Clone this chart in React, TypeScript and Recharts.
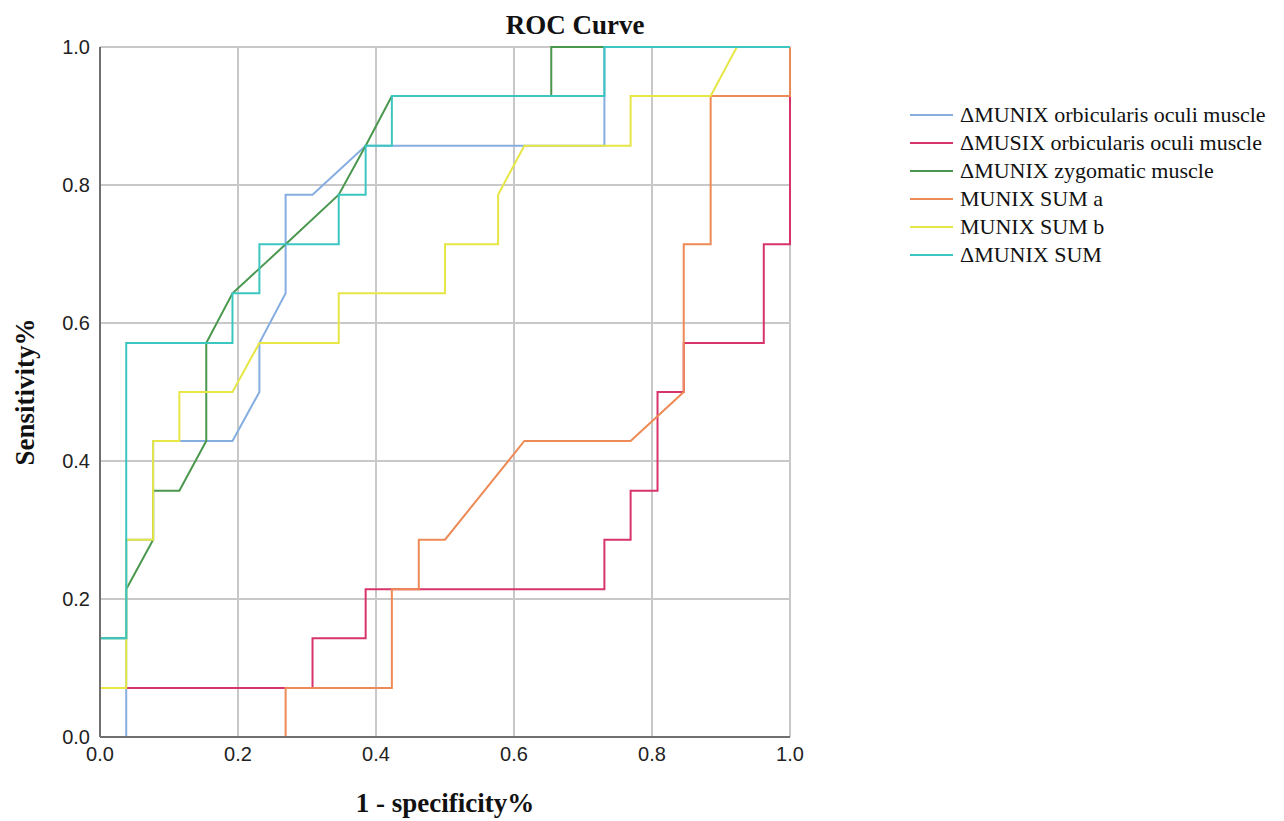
import { LineChart, Line, XAxis, YAxis, CartesianGrid } from "recharts";

// ROC coordinates (x = 1 - specificity, y = sensitivity)
const munixOrbX = [0, 0.038, 0.038, 0.038, 0.077, 0.077, 0.192, 0.231, 0.231, 0.269, 0.269, 0.308, 0.385, 0.731, 0.731, 1];
const munixOrbY = [0, 0, 0.071, 0.286, 0.286, 0.429, 0.429, 0.5, 0.571, 0.643, 0.786, 0.786, 0.857, 0.857, 1, 1];

const musixOrbX = [0, 0, 0.038, 0.308, 0.308, 0.385, 0.385, 0.731, 0.731, 0.769, 0.769, 0.808, 0.808, 0.846, 0.846, 0.962, 0.962, 1, 1];
const musixOrbY = [0, 0.071, 0.071, 0.071, 0.143, 0.143, 0.214, 0.214, 0.286, 0.286, 0.357, 0.357, 0.5, 0.5, 0.571, 0.571, 0.714, 0.714, 1];

const zygoX = [0, 0, 0.038, 0.038, 0.077, 0.077, 0.115, 0.154, 0.154, 0.192, 0.269, 0.346, 0.385, 0.423, 0.654, 0.654, 1];
const zygoY = [0, 0.143, 0.143, 0.214, 0.286, 0.357, 0.357, 0.429, 0.571, 0.643, 0.714, 0.786, 0.857, 0.929, 0.929, 1, 1];

const sumAX = [0, 0.269, 0.269, 0.423, 0.423, 0.462, 0.462, 0.5, 0.615, 0.769, 0.846, 0.846, 0.885, 0.885, 1, 1];
const sumAY = [0, 0, 0.071, 0.071, 0.214, 0.214, 0.286, 0.286, 0.429, 0.429, 0.5, 0.714, 0.714, 0.929, 0.929, 1];

const sumBX = [0, 0, 0.038, 0.038, 0.077, 0.077, 0.115, 0.115, 0.192, 0.231, 0.346, 0.346, 0.5, 0.5, 0.577, 0.577, 0.615, 0.769, 0.769, 0.885, 0.923, 1];
const sumBY = [0, 0.071, 0.071, 0.286, 0.286, 0.429, 0.429, 0.5, 0.5, 0.571, 0.571, 0.643, 0.643, 0.714, 0.714, 0.786, 0.857, 0.857, 0.929, 0.929, 1, 1];

const sumX = [0, 0, 0.038, 0.038, 0.192, 0.192, 0.231, 0.231, 0.346, 0.346, 0.385, 0.385, 0.423, 0.423, 0.731, 0.731, 1];
const sumY = [0, 0.143, 0.143, 0.571, 0.571, 0.643, 0.643, 0.714, 0.714, 0.786, 0.786, 0.857, 0.857, 0.929, 0.929, 1, 1];

const axisTicks = [0, 0.2, 0.4, 0.6, 0.8, 1.0];

const series = [
  { name: "\u0394MUNIX orbicularis oculi muscle", color: "#86aee0", xs: munixOrbX, ys: munixOrbY },
  { name: "\u0394MUSIX orbicularis oculi muscle", color: "#d8346a", xs: musixOrbX, ys: musixOrbY },
  { name: "\u0394MUNIX zygomatic muscle", color: "#4a974e", xs: zygoX, ys: zygoY },
  { name: "MUNIX SUM a", color: "#ee8a55", xs: sumAX, ys: sumAY },
  { name: "MUNIX SUM b", color: "#e6e645", xs: sumBX, ys: sumBY },
  { name: "\u0394MUNIX SUM", color: "#3cc6c2", xs: sumX, ys: sumY },
];

const toPoints = (xs: number[], ys: number[]) => xs.map((x, i) => ({ x, y: ys[i] }));

const serif = "'Liberation Serif', 'Times New Roman', serif";
const tickFont = { fill: "#222", fontSize: 20, fontFamily: "'Liberation Sans Narrow', 'Liberation Sans', Arial, sans-serif" };

const XTitle = ({ viewBox }: any) => (
  <text x={viewBox.x + viewBox.width / 2} y={viewBox.y + 75} textAnchor="middle"
    fontFamily={serif} fontWeight="bold" fontSize={27} fill="#111">1 - specificity%</text>
);

const YTitle = ({ viewBox }: any) => {
  const cx = viewBox.x + 26;
  const cy = viewBox.y + viewBox.height / 2;
  return (
    <text x={cx} y={cy} transform={`rotate(-90, ${cx}, ${cy})`} textAnchor="middle"
      fontFamily={serif} fontWeight="bold" fontSize={27} fill="#111">Sensitivity%</text>
  );
};

export default function App() {
  return (
    <div style={{ position: "relative", width: 1268, height: 813 }}>
      <div style={{ position: "absolute", left: 567, top: 3, transform: "translateX(-50%)", fontFamily: serif,
        fontWeight: "bold", fontSize: 27, lineHeight: "28px", color: "#111", whiteSpace: "nowrap" }}>
        ROC Curve
      </div>
      <LineChart width={1268} height={813} margin={{ top: 39, right: 486, bottom: 0, left: 0 }}>
        <CartesianGrid stroke="#c8c8c8" strokeWidth={2} />
        <XAxis type="number" dataKey="x" domain={[0, 1]} ticks={axisTicks} height={84}
          tickFormatter={(v) => v.toFixed(1)} tickLine={false} tickMargin={4} tick={tickFont}
          axisLine={{ stroke: "#707070", strokeWidth: 2 }} label={<XTitle />} />
        <YAxis type="number" domain={[0, 1]} ticks={axisTicks} width={92}
          tickFormatter={(v) => v.toFixed(1)} tickLine={false} tickMargin={4} tick={tickFont}
          axisLine={{ stroke: "#707070", strokeWidth: 2 }} label={<YTitle />} />
        {series.map((s) => (
          <Line key={s.name} data={toPoints(s.xs, s.ys)} dataKey="y" name={s.name} type="linear"
            stroke={s.color} strokeWidth={2} dot={false} activeDot={false} isAnimationActive={false} />
        ))}
      </LineChart>
      <div style={{ position: "absolute", left: 902, top: 93 }}>
        {series.map((s) => (
          <div key={s.name} style={{ display: "flex", alignItems: "center", height: 28 }}>
            <div style={{ width: 43, height: 2, background: s.color, marginRight: 7 }} />
            <span style={{ fontFamily: serif, fontSize: 22, color: "#111", whiteSpace: "nowrap" }}>{s.name}</span>
          </div>
        ))}
      </div>
    </div>
  );
}
